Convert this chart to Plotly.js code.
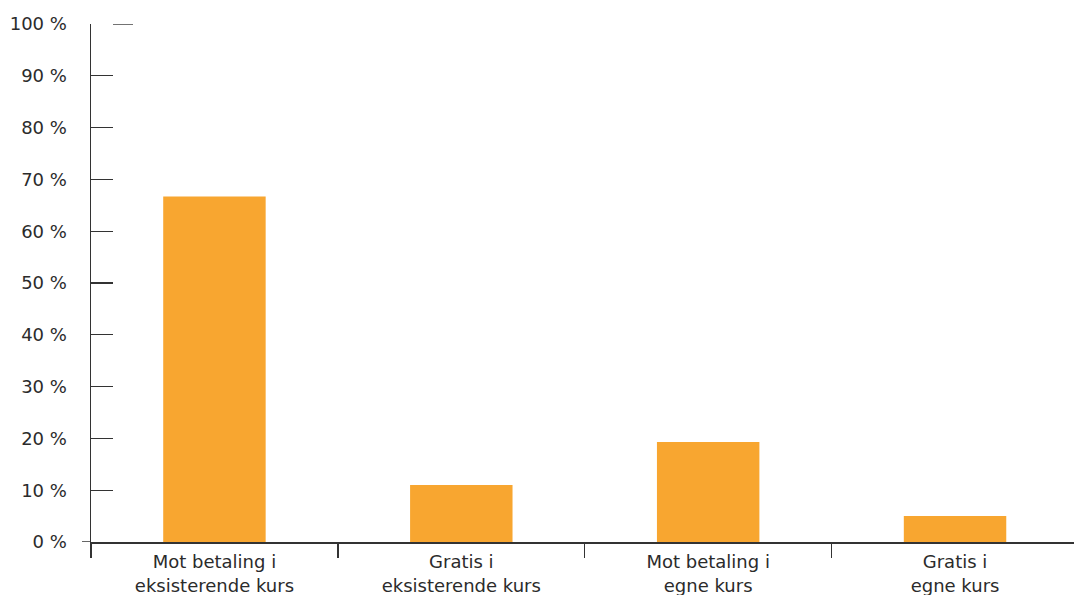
<!DOCTYPE html>
<html>
<head>
<meta charset="utf-8">
<script src="https://cdn.plot.ly/plotly-3.0.1.min.js"></script>
<style>html,body{margin:0;padding:0;background:#fff;overflow:hidden;}#chart{width:1076px;height:595px;}</style>
</head>
<body>
<div id="chart"></div>
<script>
const categories = ["Mot betaling i<br>eksisterende kurs", "Gratis i<br>eksisterende kurs", "Mot betaling i<br>egne kurs", "Gratis i<br>egne kurs"];
const values = [66.7, 11.0, 19.3, 5.0];
const yTicks = [0, 10, 20, 30, 40, 50, 60, 70, 80, 90, 100];

const W = 1076, H = 595;
const mL = 91, mR = 0, mT = 23.5, mB = 53;
const plotW = W - mL - mR;

const trace = {
  type: 'bar',
  x: categories,
  y: values,
  width: 0.415,
  marker: {color: '#F8A630'},
  hoverinfo: 'skip'
};

const layout = {
  width: W, height: H,
  margin: {l: mL, r: mR, t: mT, b: mB, pad: 0},
  paper_bgcolor: '#fff', plot_bgcolor: '#fff',
  showlegend: false,
  font: {family: 'DejaVu Sans, Verdana, sans-serif', size: 18, color: '#2b2b2b'},
  xaxis: {
    type: 'category',
    range: [-0.5, 3.49],
    showline: true, linecolor: '#333', linewidth: 1.5,
    ticks: 'outside', tickson: 'boundaries', ticklen: 14, tickwidth: 1.3, tickcolor: '#333',
    ticklabelstandoff: 3,
    showgrid: false, zeroline: false,
    tickfont: {size: 18, color: '#2b2b2b'},
    fixedrange: true
  },
  yaxis: {
    range: [0, 100],
    tickvals: yTicks,
    ticktext: yTicks.map(v => v + ' %'),
    showline: true, linecolor: '#333', linewidth: 1.5,
    ticks: 'inside', ticklen: 22, tickwidth: 1.3, tickcolor: '#333',
    ticklabelstandoff: 19,
    showgrid: false, zeroline: false,
    tickfont: {size: 18, color: '#2b2b2b'},
    fixedrange: true
  },
  shapes: [
    {type: 'line', xref: 'paper', yref: 'y', x0: -9 / plotW, x1: 0, y0: 0, y1: 0,
     line: {color: '#333', width: 1.5}},
    {type: 'line', xref: 'paper', yref: 'y', x0: 22 / plotW, x1: 42 / plotW, y0: 100, y1: 100,
     line: {color: '#444', width: 1.5}}
  ]
};

Plotly.newPlot('chart', [trace], layout, {displayModeBar: false, staticPlot: true});
</script>
</body>
</html>
